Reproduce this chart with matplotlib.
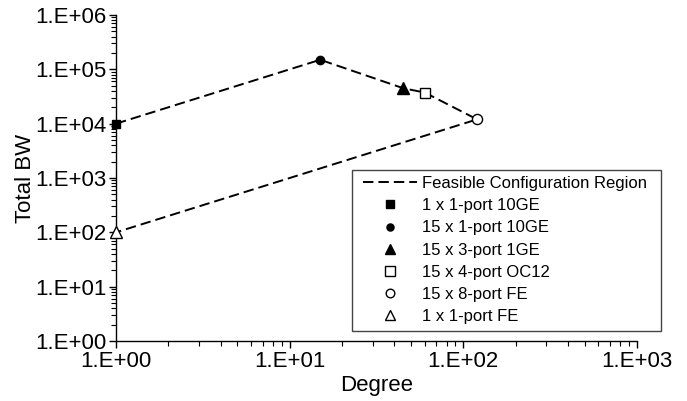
import math
import matplotlib
matplotlib.use("Agg")
import matplotlib.pyplot as plt
from matplotlib.patches import Rectangle
from matplotlib.ticker import LogLocator, FuncFormatter, NullFormatter

plt.rcParams['font.family'] = ['Liberation Sans', 'DejaVu Sans']
plt.rcParams['lines.scale_dashes'] = False

# data
region_degree = [1, 15, 45, 60, 120, 1]
region_bw = [1e4, 1.5e5, 4.5e4, 37320, 12000, 100]

config_labels = ["1 x 1-port 10GE", "15 x 1-port 10GE", "15 x 3-port 1GE",
                 "15 x 4-port OC12", "15 x 8-port FE", "1 x 1-port FE"]
config_degree = [1, 15, 45, 60, 120, 1]
config_bw = [1e4, 1.5e5, 4.5e4, 37320, 12000, 100]
config_markers = ['s', 'o', '^', 's', 'o', '^']
config_filled = [True, True, True, False, False, False]
config_sizes = [6.3, 6.0, 8.0, 7.7, 7.3, 8.0]

fig = plt.figure(figsize=(6.87, 4.01), dpi=100)
ax = fig.add_axes([116/687, 1-341/401, (637-116)/687, (341-15)/401])

line, = ax.plot(region_degree, region_bw, color='black', lw=1.4,
                dashes=(7.5, 3.6), label="Feasible Configuration Region", zorder=2)

handles = [line]
for lab, x, y, m, f, ms in zip(config_labels, config_degree, config_bw,
                               config_markers, config_filled, config_sizes):
    h, = ax.plot([x], [y], linestyle='none', marker=m, markersize=ms,
                 markerfacecolor='black' if f else 'white', markeredgecolor='black',
                 markeredgewidth=1.0, label=lab, clip_on=False, zorder=3)
    handles.append(h)

ax.set_xscale('log')
ax.set_yscale('log')
ax.set_xlim(1, 1000)
ax.set_ylim(1, 1e6)

fmt = FuncFormatter(lambda v, p: "1.E+%02d" % round(math.log10(v)))
ax.xaxis.set_major_locator(LogLocator(base=10, numticks=10))
ax.yaxis.set_major_locator(LogLocator(base=10, numticks=10))
ax.xaxis.set_minor_locator(LogLocator(base=10, subs=range(2, 10), numticks=20))
ax.yaxis.set_minor_locator(LogLocator(base=10, subs=range(2, 10), numticks=20))
ax.xaxis.set_major_formatter(fmt)
ax.yaxis.set_major_formatter(fmt)
ax.xaxis.set_minor_formatter(NullFormatter())
ax.yaxis.set_minor_formatter(NullFormatter())

ax.tick_params(axis='both', which='major', direction='out', length=5, width=1,
               labelsize=16, pad=2)
ax.tick_params(axis='both', which='minor', direction='out', length=3.5, width=0.8)

for s in ['top', 'right']:
    ax.spines[s].set_visible(False)
for s in ['left', 'bottom']:
    ax.spines[s].set_linewidth(1.0)

ax.set_xlabel("Degree", fontsize=16, labelpad=2)
ax.set_ylabel("Total BW", fontsize=16, labelpad=-1)

# legend frame (figure pixel box 352..661 x 170..331)
fig.patches.append(Rectangle((352/687, 1-331/401), (661-352)/687, (331-170)/401,
                             transform=fig.transFigure, facecolor='white',
                             edgecolor='#444444', linewidth=1.0, zorder=5))
leg = fig.legend(handles=handles, loc='upper left',
                 bbox_to_anchor=(358/687, 1-171/401), bbox_transform=fig.transFigure,
                 fontsize=12, frameon=False, markerscale=0.85,
                 handlelength=3.25, handletextpad=0.3, labelspacing=0.43,
                 borderpad=0.3, borderaxespad=0)
leg.set_zorder(6)

fig.savefig("out.png", dpi=100)
